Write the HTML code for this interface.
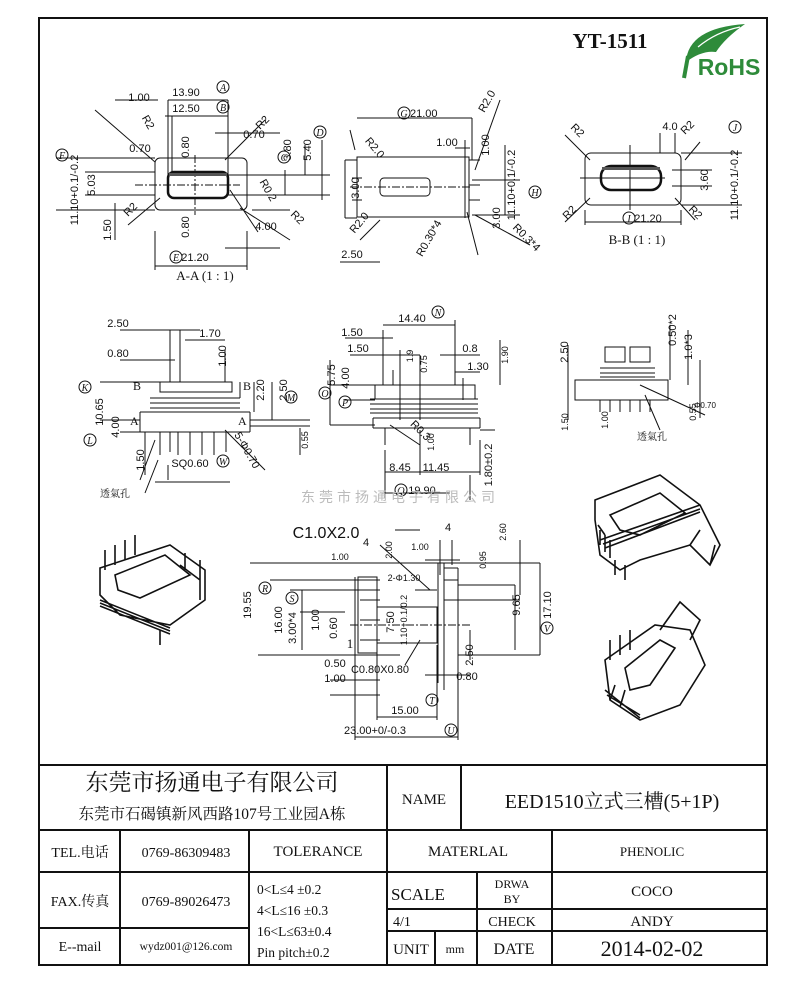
<!DOCTYPE html>
<html><head><meta charset="utf-8"><style>
html,body{margin:0;padding:0;background:#fff;}
svg{display:block}
.t{font-family:"Liberation Sans",sans-serif;font-size:11px;fill:#111}
.s{font-family:"Liberation Serif","Noto Serif CJK SC",serif;fill:#111}
.c{font-family:"Liberation Serif","Noto Serif CJK SC",serif;font-size:10px;font-style:italic;fill:#111}
</style></head><body>
<svg width="800" height="990" viewBox="0 0 800 990" xmlns="http://www.w3.org/2000/svg">
<g fill="none" stroke="#111" stroke-width="2">
<rect x="39" y="18" width="728" height="947"/>
<line x1="39" y1="765" x2="767" y2="765"/>
<line x1="39" y1="830" x2="767" y2="830"/>
<line x1="39" y1="872" x2="767" y2="872"/>
<line x1="39" y1="928" x2="249" y2="928"/>
<line x1="387" y1="909" x2="767" y2="909"/>
<line x1="387" y1="931" x2="767" y2="931"/>
<line x1="120" y1="830" x2="120" y2="965"/>
<line x1="249" y1="830" x2="249" y2="965"/>
<line x1="387" y1="765" x2="387" y2="965"/>
<line x1="461" y1="765" x2="461" y2="830"/>
<line x1="552" y1="830" x2="552" y2="965"/>
<line x1="477" y1="872" x2="477" y2="965"/>
<line x1="435" y1="931" x2="435" y2="965"/>
</g>
<!-- title texts -->
<text class="s" x="212" y="790" font-size="23" text-anchor="middle">东莞市扬通电子有限公司</text>
<text class="s" x="212" y="819" font-size="15.5" text-anchor="middle">东莞市石碣镇新风西路107号工业园A栋</text>
<text class="s" x="424" y="804" font-size="15" text-anchor="middle">NAME</text>
<text class="s" x="612" y="808" font-size="20" text-anchor="middle">EED1510立式三槽(5+1P)</text>
<text class="s" x="80" y="857" font-size="14" text-anchor="middle">TEL.电话</text>
<text class="s" x="186" y="857" font-size="14" text-anchor="middle">0769-86309483</text>
<text class="s" x="318" y="856" font-size="15" text-anchor="middle">TOLERANCE</text>
<text class="s" x="468" y="856" font-size="15" text-anchor="middle">MATERLAL</text>
<text class="s" x="652" y="856" font-size="13" text-anchor="middle">PHENOLIC</text>
<text class="s" x="80" y="906" font-size="14" text-anchor="middle">FAX.传真</text>
<text class="s" x="186" y="906" font-size="14" text-anchor="middle">0769-89026473</text>
<text class="s" x="257" y="894" font-size="13.5">0&lt;L≤4   ±0.2</text>
<text class="s" x="257" y="915" font-size="13.5">4&lt;L≤16  ±0.3</text>
<text class="s" x="257" y="936" font-size="13.5">16&lt;L≤63±0.4</text>
<text class="s" x="257" y="957" font-size="13.5">Pin pitch±0.2</text>
<text class="s" x="391" y="900" font-size="17">SCALE</text>
<text class="s" x="512" y="888" font-size="12" text-anchor="middle">DRWA</text>
<text class="s" x="512" y="903" font-size="12" text-anchor="middle">BY</text>
<text class="s" x="652" y="896" font-size="15" text-anchor="middle">COCO</text>
<text class="s" x="393" y="926" font-size="14">4/1</text>
<text class="s" x="512" y="926" font-size="14" text-anchor="middle">CHECK</text>
<text class="s" x="652" y="926" font-size="15" text-anchor="middle">ANDY</text>
<text class="s" x="80" y="951" font-size="14" text-anchor="middle">E--mail</text>
<text class="s" x="186" y="950" font-size="11.5" text-anchor="middle">wydz001@126.com</text>
<text class="s" x="411" y="954" font-size="15" text-anchor="middle">UNIT</text>
<text class="s" x="455" y="953" font-size="12" text-anchor="middle">mm</text>
<text class="s" x="514" y="954" font-size="16" text-anchor="middle">DATE</text>
<text class="s" x="652" y="956" font-size="22" text-anchor="middle">2014-02-02</text>

<!-- header -->
<text class="s" x="610" y="48" font-size="21" font-weight="bold" text-anchor="middle">YT-1511</text>
<path d="M686 62 Q688 28 745 24 Q725 38 716 52 Q702 50 686 62Z" fill="#2e8b3a"/>
<path d="M698 47 Q716 32 740 27" stroke="#fff" stroke-width="1.2" fill="none"/>
<text x="729" y="75" font-family="Liberation Sans,sans-serif" font-weight="bold" font-size="23" fill="#2e8b3a" text-anchor="middle">RoHS</text>
<path d="M684 78 L688 56" stroke="#2e8b3a" stroke-width="4"/>

<g fill="none" stroke="#111" stroke-width="1">
<!-- A-A view -->
<rect x="155" y="158" width="92" height="52" rx="5"/>
<rect x="168" y="172" width="60" height="26" rx="6" stroke-width="2.5"/>
<line x1="135" y1="185" x2="240" y2="185" stroke-dasharray="8 2 2 2"/>
<line x1="195" y1="155" x2="195" y2="215" stroke-dasharray="8 2 2 2"/>
<path d="M228 175 H330 M228 195 H330 M252 210 H290 M155 231 V270 M247 231 V270 M155 266 H247 M168 100 V175 M228 100 V175 M172 116 V175 M228 116 H165 M168 100 H228 M115 100 H158 M56 158 H155 M56 210 H155 M85 172 H155 M85 195 H155 M115 203 V240 M305 145 V175 M322 140 V200 M285 170 V195 M225 248 H280 M95 110 L155 162 M128 225 L160 198 M230 190 L258 232 M240 208 L290 240 M225 160 L265 120 M215 133 H280"/>
<!-- middle view G/H -->
<rect x="357" y="157" width="112" height="60"/>
<rect x="380" y="178" width="50" height="18" rx="4"/>
<line x1="350" y1="187" x2="470" y2="187" stroke-dasharray="8 2 2 2"/>
<path d="M345 160 V218 M345 160 H357 M345 218 H357 M465 160 V218 M469 160 H480 M469 185 H480 M469 200 H480 M472 180 H520 M472 215 H520 M357 118 H472 M472 118 V160 M455 148 H470 M505 145 V215 M352 178 H362 M352 200 H362 M340 262 H380 M355 150 L350 130 M475 170 L500 100 M380 220 L360 240 M467 212 L478 255 M475 215 L530 245 M465 140 V162"/>
<!-- B-B view -->
<rect x="585" y="153" width="96" height="52" rx="6"/>
<rect x="601" y="166" width="60" height="24" rx="10" stroke-width="2.5"/>
<path d="M580 178 H665 M630 145 V210 M660 133 V153 M675 133 V153 M672 170 H712 M672 186 H712 M681 153 H742 M681 205 H742 M585 210 V225 M681 210 V225 M585 222 H681 M565 135 L590 160 M565 222 L590 198 M685 160 L700 142 M675 198 L695 220"/>
<!-- middle-left view -->
<rect x="160" y="382" width="72" height="10"/>
<path d="M150 398 H240 M150 403 H240 M150 408 H240 M140 412 H250 M140 412 V432 M250 412 V432 M140 432 H250 M160 432 V455 M170 432 V452 M178 432 V455 M190 432 V455 M202 432 V455 M214 432 V455 M226 432 V452 M170 330 V382 M180 330 V382 M120 330 H200 M185 340 H225 M120 360 H175 M225 350 V382 M100 382 H160 M100 420 H140 M120 432 H140 M145 432 V475 M240 382 V398 M254 382 V412 M272 382 V420 M250 420 H310 M250 426 H310 M300 428 V455 M168 465 V480 M225 430 L265 470 M140 480 L155 440 M145 493 L158 460 M155 482 H230"/>
<!-- middle view -->
<rect x="375" y="385" width="100" height="14"/>
<path d="M370 399 H478 M370 404 H478 M370 409 H478 M370 413 H478 M373 418 H480 M373 418 V428 M480 418 V428 M373 428 H480 M385 428 V445 M470 428 V445 M383 370 V385 M393 370 V385 M463 378 V400 M383 330 V385 M455 320 V385 M383 325 H455 M345 338 H393 M350 355 H420 M440 355 H480 M455 372 H480 M400 350 V420 M420 355 V420 M330 385 H375 M345 400 H375 M330 425 H375 M385 450 V498 M420 430 V475 M480 440 V475 M480 430 H495 M385 472 H480 M385 493 H450 M470 475 V500 M390 425 L420 445 M500 340 V385 M330 360 V425"/>
<!-- right small view -->
<path d="M605 347 H625 V362 H605Z M630 347 H650 V362 H630Z M600 368 H655 M600 373 H655 M600 377 H655 M575 380 H668 V400 H575Z M600 400 V412 M610 400 V412 M620 400 V412 M630 400 V412 M640 400 V412 M650 400 V412 M568 345 V420 M670 325 V380 M688 330 V385 M700 360 V418 M640 385 L705 415 M645 395 L660 430"/>
<!-- bottom view -->
<path d="M358 577 H377 V653 H358Z M377 607 H437 V643 H377 M438 563 V683 M444 563 V690 M444 568 H458 M444 580 H458 M458 568 V690 M444 600 H458 M350 580 H380 M355 577 V740 M458 690 V740 M355 737 H458 M377 645 V720 M437 645 V720 M377 717 H437 M250 563 H540 M258 655 H400 M270 580 H380 M290 590 H380 M300 612 H345 M540 563 V655 M458 655 H540 M458 585 H515 M458 600 H520 M515 585 V650 M330 680 H380 M330 695 H380 M425 675 H470 M440 540 V575 M452 540 V565 M425 560 H460 M395 530 H420 M380 545 L430 590 M415 590 H437 M420 640 L405 665 M470 630 V660 M520 540 V595 M302 590 V650 M360 600 H380 M360 620 H380 M360 640 H380"/>
<line x1="350" y1="625" x2="470" y2="625" stroke-dasharray="8 2 2 2"/>
<!-- 3D views -->
<g stroke-width="1.6">
<path d="M595 500 L660 475 L700 505 L720 545 L710 565 L690 545 L640 560 L620 570 L600 555 L595 520Z M610 515 L660 493 L685 513 L640 535 L620 530Z M600 540 L700 505 M605 548 L700 512 M603 544 L700 509 M615 575 V560 M625 580 V565 M690 545 L700 530 M710 565 L715 545 M598 525 L605 535 M600 530 V545 M605 535 V552 M610 540 V558"/>
<path d="M100 568 L170 545 L205 570 L205 600 L170 625 L120 615 L100 595Z M115 575 L165 555 L190 575 L140 598 L118 590Z M100 600 L170 628 M100 606 L170 634 M100 603 L170 631 M105 570 V550 M115 565 V545 M125 560 V540 M135 555 V535 M185 570 V553 M200 580 V560 M160 630 V645 M180 565 L200 580 L200 600"/>
<path d="M605 660 L655 625 L690 630 L705 665 L680 705 L640 720 L610 700Z M625 668 L660 640 L675 648 L650 685 L630 690Z M660 630 L680 602 L700 620 L690 640 M605 690 L640 718 M607 695 L640 715 M610 660 V640 M620 655 V635 M630 650 V630 M610 700 L615 685 M620 707 L625 690"/>
</g>
</g>
<g fill="#111" stroke="none">
<rect x="169" y="173" width="58" height="3" fill="#555"/>
<rect x="602" y="167" width="58" height="3" fill="#555"/>
</g>

<!-- dimension labels -->
<g class="t">
<text x="186" y="96" text-anchor="middle">13.90</text><text x="139" y="101" text-anchor="middle">1.00</text>
<text x="186" y="112" text-anchor="middle">12.50</text><text x="254" y="138" text-anchor="middle">0.70</text>
<text x="140" y="152" text-anchor="middle">0.70</text><text x="266" y="230" text-anchor="middle">4.00</text>
<text x="195" y="261" text-anchor="middle">21.20</text>
<text x="410" y="117">21.00</text><text x="447" y="146" text-anchor="middle">1.00</text>
<text x="352" y="258" text-anchor="middle">2.50</text>
<text x="670" y="130" text-anchor="middle">4.0</text><text x="648" y="222" text-anchor="middle">21.20</text>
<text x="118" y="327" text-anchor="middle">2.50</text><text x="210" y="337" text-anchor="middle">1.70</text>
<text x="118" y="357" text-anchor="middle">0.80</text><text x="190" y="467" text-anchor="middle">SQ0.60</text>
<text x="412" y="322" text-anchor="middle">14.40</text><text x="352" y="336" text-anchor="middle">1.50</text>
<text x="358" y="352" text-anchor="middle">1.50</text><text x="470" y="352" text-anchor="middle">0.8</text>
<text x="478" y="370" text-anchor="middle">1.30</text><text x="400" y="471" text-anchor="middle">8.45</text>
<text x="436" y="471" text-anchor="middle">11.45</text><text x="422" y="494" text-anchor="middle">19.90</text>
<text x="326" y="538" text-anchor="middle" font-size="16">C1.0X2.0</text>
<text x="448" y="531" text-anchor="middle">4</text><text x="366" y="546" text-anchor="middle">4</text>
<text x="340" y="560" text-anchor="middle" font-size="9">1.00</text><text x="420" y="550" text-anchor="middle" font-size="9">1.00</text>
<text x="404" y="581" text-anchor="middle" font-size="9">2-Φ1.30</text><text x="350" y="648" text-anchor="middle" class="s" font-size="13">1</text>
<text x="335" y="667" text-anchor="middle">0.50</text><text x="335" y="682" text-anchor="middle">1.00</text>
<text x="380" y="673" text-anchor="middle">C0.80X0.80</text><text x="467" y="680" text-anchor="middle">0.80</text>
<text x="405" y="714" text-anchor="middle">15.00</text><text x="375" y="734" text-anchor="middle">23.00+0/-0.3</text>
<text x="133" y="390" class="s" font-size="12">B</text><text x="243" y="390" class="s" font-size="12">B</text>
<text x="130" y="425" class="s" font-size="12">A</text><text x="238" y="425" class="s" font-size="12">A</text>
<text x="205" y="280" class="s" font-size="13" text-anchor="middle">A-A (1 : 1)</text>
<text x="637" y="244" class="s" font-size="13" text-anchor="middle">B-B (1 : 1)</text>
<text x="115" y="497" class="s" font-size="10" text-anchor="middle">透氣孔</text>
<text x="652" y="440" class="s" font-size="10" text-anchor="middle">透氣孔</text>
<text x="694" y="408" font-size="8">Φ0.70</text>
</g>
<!-- vertical labels -->
<g class="t" text-anchor="middle">
<text transform="translate(189,147) rotate(-90)">0.80</text><text transform="translate(311,150) rotate(-90)">5.40</text>
<text transform="translate(291,150) rotate(-90)">3.80</text><text transform="translate(78,190) rotate(-90)">11.10+0.1/-0.2</text>
<text transform="translate(95,185) rotate(-90)">5.03</text><text transform="translate(111,230) rotate(-90)">1.50</text>
<text transform="translate(189,227) rotate(-90)">0.80</text>
<text transform="translate(359,188) rotate(-90)">3.00</text><text transform="translate(489,145) rotate(-90)">1.00</text>
<text transform="translate(515,185) rotate(-90)">11.10+0.1/-0.2</text><text transform="translate(500,218) rotate(-90)">3.00</text>
<text transform="translate(708,180) rotate(-90)">3.60</text><text transform="translate(738,185) rotate(-90)">11.10+0.1/-0.2</text>
<text transform="translate(226,356) rotate(-90)">1.00</text><text transform="translate(103,412) rotate(-90)">10.65</text>
<text transform="translate(264,390) rotate(-90)">2.20</text><text transform="translate(287,390) rotate(-90)">2.50</text>
<text transform="translate(119,427) rotate(-90)">4.00</text><text transform="translate(308,440) rotate(-90)" font-size="9">0.55</text>
<text transform="translate(144,460) rotate(-90)">1.50</text>
<text transform="translate(335,375) rotate(-90)">5.75</text><text transform="translate(349,378) rotate(-90)">4.00</text>
<text transform="translate(413,356) rotate(-90)" font-size="9">1.9</text><text transform="translate(427,364) rotate(-90)" font-size="9">0.75</text>
<text transform="translate(508,355) rotate(-90)" font-size="9">1.90</text><text transform="translate(434,442) rotate(-90)" font-size="9">1.00</text>
<text transform="translate(492,465) rotate(-90)">1.80±0.2</text>
<text transform="translate(568,352) rotate(-90)">2.50</text><text transform="translate(676,330) rotate(-90)">0.50*2</text>
<text transform="translate(692,347) rotate(-90)">1.0*3</text><text transform="translate(696,412) rotate(-90)" font-size="9">0.55</text>
<text transform="translate(568,422) rotate(-90)" font-size="9">1.50</text><text transform="translate(608,420) rotate(-90)" font-size="9">1.00</text>
<text transform="translate(506,532) rotate(-90)" font-size="9">2.60</text><text transform="translate(392,550) rotate(-90)" font-size="9">2.00</text>
<text transform="translate(486,560) rotate(-90)" font-size="9">0.95</text><text transform="translate(251,605) rotate(-90)">19.55</text>
<text transform="translate(282,620) rotate(-90)">16.00</text><text transform="translate(296,628) rotate(-90)">3.00*4</text>
<text transform="translate(319,620) rotate(-90)">1.00</text><text transform="translate(337,628) rotate(-90)">0.60</text>
<text transform="translate(394,622) rotate(-90)">7.50</text><text transform="translate(407,620) rotate(-90)" font-size="9">1.10+0.1/0.2</text>
<text transform="translate(520,605) rotate(-90)">9.65</text><text transform="translate(551,605) rotate(-90)">17.10</text>
<text transform="translate(473,655) rotate(-90)">2.50</text>
</g>
<!-- rotated R labels -->
<g class="t" text-anchor="middle">
<text transform="translate(145,124) rotate(60)">R2</text><text transform="translate(265,125) rotate(-45)">R2</text>
<text transform="translate(265,192) rotate(60)">R0.2</text><text transform="translate(133,212) rotate(-45)">R2</text>
<text transform="translate(295,220) rotate(45)">R2</text><text transform="translate(372,150) rotate(50)">R2.0</text>
<text transform="translate(490,103) rotate(-60)">R2.0</text><text transform="translate(362,225) rotate(-50)">R2.0</text>
<text transform="translate(432,240) rotate(-60)">R0.30*4</text><text transform="translate(524,240) rotate(45)">R0.3*4</text>
<text transform="translate(575,133) rotate(45)">R2</text><text transform="translate(690,130) rotate(-45)">R2</text>
<text transform="translate(572,215) rotate(-45)">R2</text><text transform="translate(693,215) rotate(45)">R2</text>
<text transform="translate(244,452) rotate(60)">5-Φ0.70</text><text transform="translate(418,433) rotate(45)">R0.3</text>
</g>
<!-- circled letters -->
<g fill="none" stroke="#111" stroke-width="1">
<circle cx="223" cy="87" r="6"/><circle cx="223" cy="107" r="6"/><circle cx="320" cy="132" r="6"/><circle cx="284" cy="157" r="6"/>
<circle cx="62" cy="155" r="6"/><circle cx="176" cy="257" r="6"/><circle cx="404" cy="113" r="6"/><circle cx="535" cy="192" r="6"/>
<circle cx="735" cy="127" r="6"/><circle cx="629" cy="218" r="6"/><circle cx="85" cy="387" r="6"/><circle cx="90" cy="440" r="6"/>
<circle cx="291" cy="397" r="6"/><circle cx="223" cy="461" r="6"/><circle cx="438" cy="312" r="6"/><circle cx="325" cy="393" r="6"/>
<circle cx="345" cy="402" r="6"/><circle cx="401" cy="490" r="6"/><circle cx="265" cy="588" r="6"/><circle cx="292" cy="598" r="6"/>
<circle cx="547" cy="628" r="6"/><circle cx="432" cy="700" r="6"/><circle cx="451" cy="730" r="6"/>
</g>
<g class="c" text-anchor="middle">
<text x="223" y="91">A</text><text x="223" y="111">B</text><text x="320" y="136">D</text><text x="284" y="161">C</text>
<text x="62" y="159">F</text><text x="176" y="261">E</text><text x="404" y="117">G</text><text x="535" y="196">H</text>
<text x="735" y="131">J</text><text x="629" y="222">I</text><text x="85" y="391">K</text><text x="90" y="444">L</text>
<text x="291" y="401">M</text><text x="223" y="465">W</text><text x="438" y="316">N</text><text x="325" y="397">O</text>
<text x="345" y="406">P</text><text x="401" y="494">Q</text><text x="265" y="592">R</text><text x="292" y="602">S</text>
<text x="547" y="632">V</text><text x="432" y="704">T</text><text x="451" y="734">U</text>
</g>
<text x="400" y="502" text-anchor="middle" font-family="Liberation Sans,'Noto Sans CJK SC',sans-serif" font-size="14" letter-spacing="4" fill="#bbb">东莞市扬通电子有限公司</text>
</svg>
</body></html>
